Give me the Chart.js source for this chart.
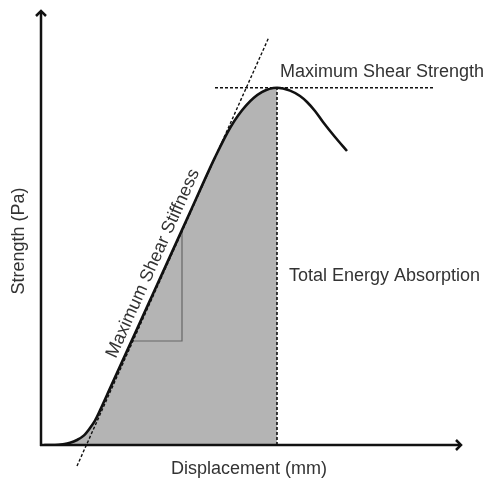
<!DOCTYPE html>
<html>
<head>
<meta charset="utf-8">
<script src="https://cdn.jsdelivr.net/npm/chart.js@4.4.1/dist/chart.umd.min.js"></script>
<style>
  html, body { margin: 0; padding: 0; background: #fff; }
  #wrap { width: 487px; height: 478px; position: relative; }
</style>
</head>
<body>
<div id="wrap"><canvas id="c"></canvas></div>
<script>
// ---- data (schematic units) ----
const displacement = [0.08, 0.35, 0.55, 0.725, 0.9, 1.075, 1.225, 1.35, 1.475, 1.725, 2.225, 2.725, 3.225, 3.725, 4.35, 4.74, 5.13, 5.52, 5.9, 6.225, 6.475, 6.65, 6.85, 7.05, 7.35, 7.65];
const strength     = [0, 0, 0.02, 0.055, 0.125, 0.24, 0.425, 0.61, 0.865, 1.415, 2.515, 3.615, 4.715, 5.815, 7.19, 7.95, 8.49, 8.82, 8.93, 8.86, 8.725, 8.575, 8.35, 8.075, 7.7, 7.35];
const stiffnessLineX = [0.9, 5.7];
const stiffnessLineY = [-0.525, 10.2];
const maxStrengthLineX = [4.35, 9.825];
const slopeTriangleX = [2.26, 3.525, 3.525];
const slopeTriangleY = [2.6, 2.6, 5.36];
const axisTitles = { x: 'Displacement (mm)', y: 'Strength (Pa)' };
const annotations = { peak: 'Maximum Shear Strength', energy: 'Total Energy Absorption', stiffness: 'Maximum Shear Stiffness' };

const xMax = 10.525, yMax = 10.875;

const peakIndex = strength.indexOf(Math.max(...strength));
const peakX = displacement[peakIndex], peakY = strength[peakIndex];
const pts = (xs, ys) => xs.map((x, i) => ({ x, y: ys[i] }));

const curve = pts(displacement, strength);
const area = curve.slice(0, peakIndex + 1);

const FONT = '"Liberation Sans", Arial, sans-serif';
const TEXT = '#333';

const overlay = {
  id: 'overlay',
  afterDatasetsDraw(chart) {
    const { ctx, scales: { x, y } } = chart;
    ctx.save();
    // axes
    ctx.strokeStyle = '#111';
    ctx.lineWidth = 2.5;
    ctx.lineCap = 'butt';
    const x0 = x.getPixelForValue(0), y0 = y.getPixelForValue(0);
    const xEnd = x.getPixelForValue(xMax), yEnd = y.getPixelForValue(yMax);
    ctx.beginPath();
    ctx.moveTo(x0, y0 + 1); ctx.lineTo(x0, yEnd + 1);
    ctx.moveTo(x0 - 1, y0); ctx.lineTo(xEnd - 1, y0);
    ctx.stroke();
    ctx.lineJoin = 'miter';
    ctx.beginPath();
    ctx.moveTo(x0 - 5, yEnd + 6); ctx.lineTo(x0, yEnd + 1); ctx.lineTo(x0 + 5, yEnd + 6);
    ctx.moveTo(xEnd - 6, y0 - 5); ctx.lineTo(xEnd - 1, y0); ctx.lineTo(xEnd - 6, y0 + 5);
    ctx.stroke();

    // text
    ctx.fillStyle = TEXT;
    ctx.font = '18px ' + FONT;
    ctx.textBaseline = 'alphabetic';
    ctx.textAlign = 'center';
    ctx.fillText(axisTitles.x, 249, y0 + 29);

    ctx.save();
    ctx.translate(24, 241);
    ctx.rotate(-Math.PI / 2);
    ctx.fillText(axisTitles.y, 0, 0);
    ctx.restore();

    ctx.textAlign = 'left';
    ctx.fillText(annotations.peak, x.getPixelForValue(5.975), y.getPixelForValue(9.2));
    ctx.fillText(annotations.energy, x.getPixelForValue(6.2), y.getPixelForValue(4.1));

    // rotated stiffness label, parallel to the stiffness line
    const px1 = x.getPixelForValue(stiffnessLineX[0]), py1 = y.getPixelForValue(stiffnessLineY[0]);
    const px2 = x.getPixelForValue(stiffnessLineX[1]), py2 = y.getPixelForValue(stiffnessLineY[1]);
    const ang = Math.atan2(py2 - py1, px2 - px1);
    ctx.save();
    ctx.translate(x.getPixelForValue(1.87), y.getPixelForValue(2.15));
    ctx.rotate(ang);
    ctx.fillText(annotations.stiffness, 0, 0);
    ctx.restore();

    ctx.restore();
  }
};

new Chart(document.getElementById('c'), {
  type: 'scatter',
  data: {
    datasets: [
      { data: curve, showLine: true, borderColor: '#111', borderWidth: 2.6, pointRadius: 0,
        cubicInterpolationMode: 'monotone', fill: false, order: 1 },
      { data: pts(stiffnessLineX, stiffnessLineY), showLine: true, borderColor: '#111', borderWidth: 1.4,
        borderDash: [3, 2], pointRadius: 0, clip: false, order: 2 },
      { data: pts(maxStrengthLineX, [peakY, peakY]), showLine: true, borderColor: '#111', borderWidth: 1.4,
        borderDash: [3, 2], pointRadius: 0, order: 2 },
      { data: pts([peakX, peakX], [0, peakY]), showLine: true, borderColor: '#111', borderWidth: 1.6,
        borderDash: [3, 2], pointRadius: 0, order: 2 },
      { data: pts(slopeTriangleX, slopeTriangleY), showLine: true, borderColor: '#666', borderWidth: 1.2,
        pointRadius: 0, order: 3 },
      { data: area, showLine: true, borderWidth: 0, borderColor: 'rgba(0,0,0,0)', pointRadius: 0,
        cubicInterpolationMode: 'monotone', fill: 'origin', backgroundColor: '#b4b4b4', order: 10 }
    ]
  },
  options: {
    responsive: true,
    maintainAspectRatio: false,
    animation: false,
    layout: { padding: { left: 41, right: 25, top: 10, bottom: 33 } },
    plugins: { legend: { display: false }, tooltip: { enabled: false } },
    scales: {
      x: { type: 'linear', min: 0, max: xMax, display: false },
      y: { type: 'linear', min: 0, max: yMax, display: false }
    }
  },
  plugins: [overlay]
});
</script>
</body>
</html>
